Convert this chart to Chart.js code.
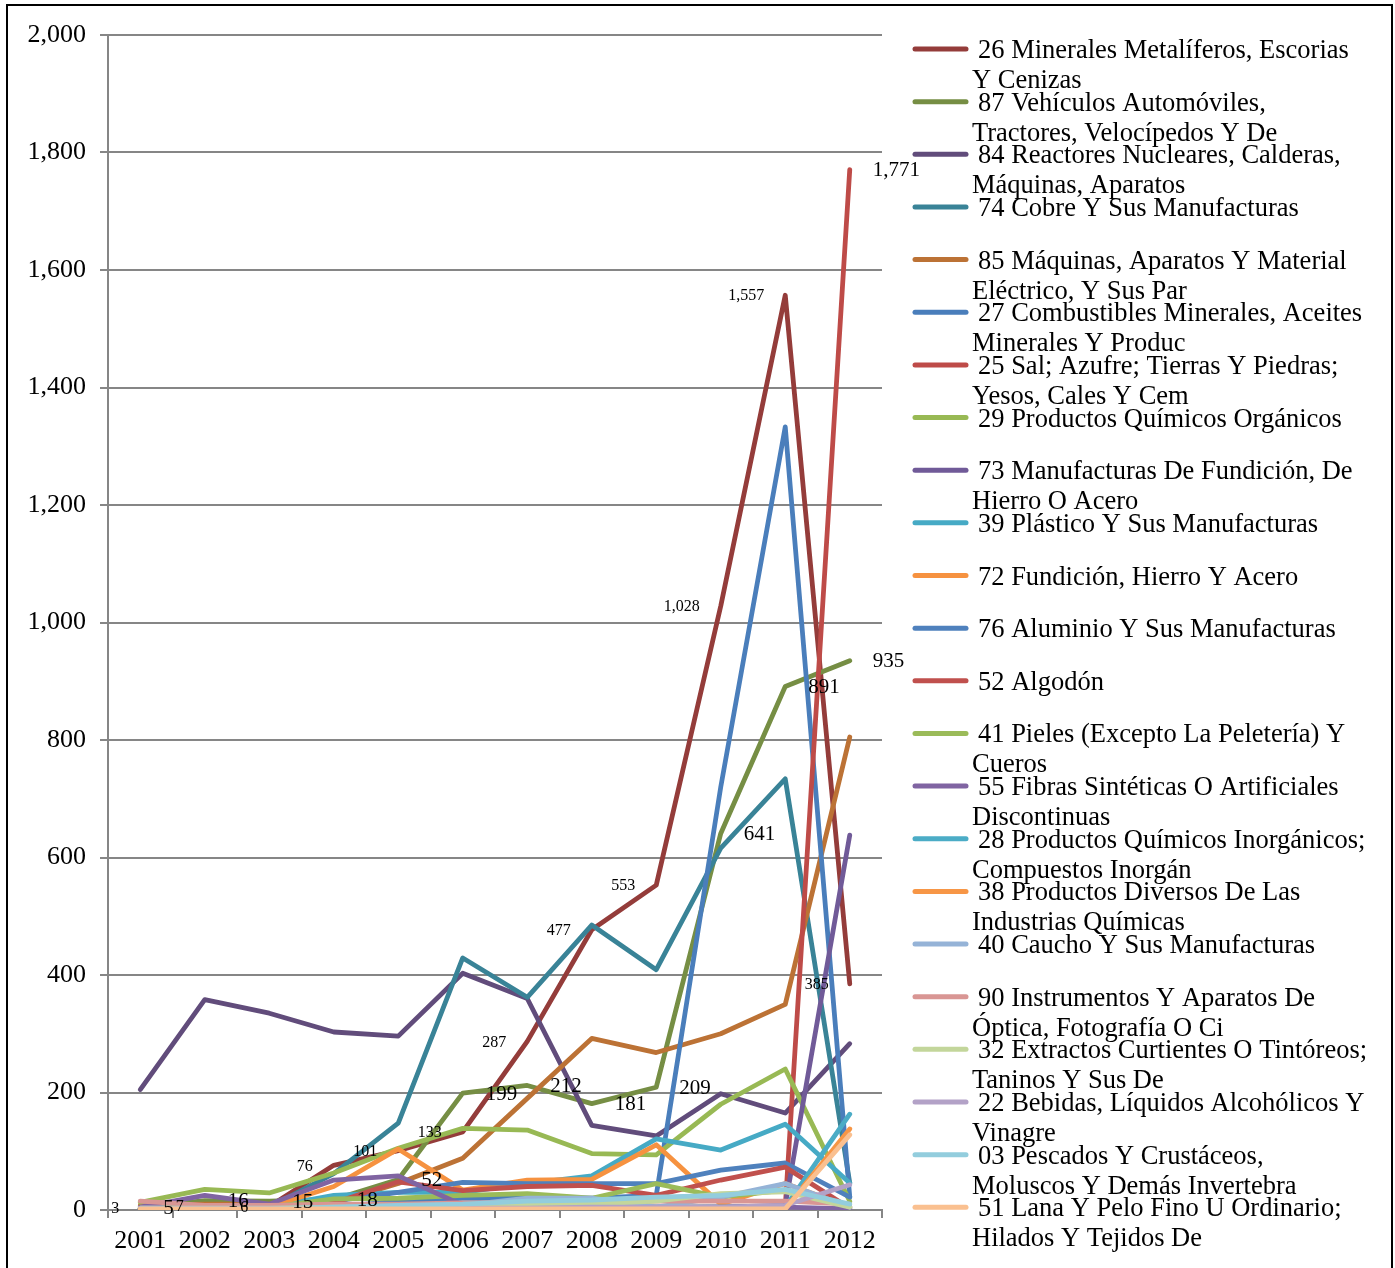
<!DOCTYPE html>
<html><head><meta charset="utf-8">
<script src="https://cdn.jsdelivr.net/npm/chart.js@4.4.0/dist/chart.umd.min.js"></script>
<style>
html,body{margin:0;padding:0;background:#fff;overflow:hidden;}
#wrap{position:relative;width:1395px;height:1268px;overflow:hidden;}
#frame{position:absolute;left:6px;top:4px;width:1387px;height:1300px;border:2px solid #000;box-sizing:border-box;pointer-events:none;}
canvas{position:absolute;left:0;top:0;}
</style></head><body>
<div id="wrap"><canvas id="c" width="1395" height="1268"></canvas><div id="frame"></div></div>
<script>
// ---- categories & ticks ----
const years = ['2001','2002','2003','2004','2005','2006','2007','2008','2009','2010','2011','2012'];
const yTicks = [0,200,400,600,800,1000,1200,1400,1600,1800,2000];

// ---- series values ----
const s26 = [3,7,6,76,101,133,287,477,553,1028,1557,385];
const s87 = [5,16,15,18,52,199,212,181,209,641,891,935];
const s84 = [205,358,335,303,296,403,360,144,126,198,165,283];
const s74 = [2,3,5,62,148,429,362,485,409,616,734,46];
const s85 = [8,10,10,12,45,88,190,292,268,300,350,805];
const s27 = [2,2,3,5,15,20,20,20,25,720,1333,22];
const s25 = [2,2,2,3,5,5,8,8,5,5,5,1771];
const s29 = [13,35,29,63,105,139,136,96,94,180,240,15];
const s73 = [2,2,2,2,3,3,3,3,4,5,8,638];
const s39 = [2,3,5,25,30,30,45,58,121,102,146,46];
const s72 = [5,5,5,40,104,34,51,52,111,10,45,5];
const s76 = [3,3,5,15,30,47,45,45,45,68,80,22];
const s52 = [3,3,3,12,48,33,40,42,25,51,73,3];
const s41 = [3,5,5,19,20,25,28,20,45,22,34,5];
const s55 = [5,25,10,51,58,8,6,5,5,5,5,2];
const s28 = [2,2,2,3,5,5,5,5,5,5,5,163];
const s38 = [2,2,2,2,2,2,2,2,2,2,2,138];
const s40 = [3,3,3,5,5,8,20,20,5,22,45,5];
const s90 = [15,8,8,10,10,12,12,12,15,15,15,10];
const s32 = [3,3,3,5,5,8,10,10,15,28,31,5];
const s22 = [3,3,3,3,3,3,3,5,5,5,8,43];
const s03 = [2,2,2,5,8,10,15,17,22,25,35,10];
const s51 = [2,2,2,2,2,2,2,2,2,2,2,128];

// ---- legend names (as wrapped in the original) ----
const n26 = ['26 Minerales Metalíferos, Escorias','Y Cenizas'];
const n87 = ['87 Vehículos Automóviles,','Tractores, Velocípedos Y De'];
const n84 = ['84 Reactores Nucleares, Calderas,','Máquinas, Aparatos'];
const n74 = ['74 Cobre Y Sus Manufacturas'];
const n85 = ['85 Máquinas, Aparatos Y Material','Eléctrico, Y Sus Par'];
const n27 = ['27 Combustibles Minerales, Aceites','Minerales Y Produc'];
const n25 = ['25 Sal; Azufre; Tierras Y Piedras;','Yesos, Cales Y Cem'];
const n29 = ['29 Productos Químicos Orgánicos'];
const n73 = ['73 Manufacturas De Fundición, De','Hierro O Acero'];
const n39 = ['39 Plástico Y Sus Manufacturas'];
const n72 = ['72 Fundición, Hierro Y Acero'];
const n76 = ['76 Aluminio Y Sus Manufacturas'];
const n52 = ['52 Algodón'];
const n41 = ['41 Pieles (Excepto La Peletería) Y','Cueros'];
const n55 = ['55 Fibras Sintéticas O Artificiales','Discontinuas'];
const n28 = ['28 Productos Químicos Inorgánicos;','Compuestos Inorgán'];
const n38 = ['38 Productos Diversos De Las','Industrias Químicas'];
const n40 = ['40 Caucho Y Sus Manufacturas'];
const n90 = ['90 Instrumentos Y Aparatos De','Óptica, Fotografía O Ci'];
const n32 = ['32 Extractos Curtientes O Tintóreos;','Taninos Y Sus De'];
const n22 = ['22 Bebidas, Líquidos Alcohólicos Y','Vinagre'];
const n03 = ['03 Pescados Y Crustáceos,','Moluscos Y Demás Invertebra'];
const n51 = ['51 Lana Y Pelo Fino U Ordinario;','Hilados Y Tejidos De'];

const series = [
  [n26,s26,'#943C3A','smallLeft'],
  [n87,s87,'#768E44','bigRight'],
  [n84,s84,'#614C7B',null],
  [n74,s74,'#398397',null],
  [n85,s85,'#BC7235',null],
  [n27,s27,'#4A7EBB',null],
  [n25,s25,'#BE4B48','lastRight'],
  [n29,s29,'#98B954',null],
  [n73,s73,'#705A98',null],
  [n39,s39,'#46AAC5',null],
  [n72,s72,'#F69240',null],
  [n76,s76,'#4F81BD',null],
  [n52,s52,'#C0504D',null],
  [n41,s41,'#9BBB59',null],
  [n55,s55,'#8064A2',null],
  [n28,s28,'#4BACC6',null],
  [n38,s38,'#F79646',null],
  [n40,s40,'#95B3D7',null],
  [n90,s90,'#D99694',null],
  [n32,s32,'#C3D69B',null],
  [n22,s22,'#B3A2C7',null],
  [n03,s03,'#93CDDD',null],
  [n51,s51,'#FAC090',null]
];
const N = series.length;
const datasets = series.map((s,i)=>({
  label: s[0].join(' '),
  legendLines: s[0],
  data: s[1],
  borderColor: s[2],
  backgroundColor: s[2],
  borderWidth: 4.8,
  pointRadius: 0,
  pointHoverRadius: 0,
  tension: 0,
  fill: false,
  borderCapStyle: 'round',
  borderJoinStyle: 'round',
  order: N-1-i,
  labelMode: s[3]
}));

const SERIF = '"Liberation Serif","Times New Roman",serif';
const fmt = v => Number(v).toLocaleString('en-US');

const valueLabels = {
  id:'valueLabels',
  afterDatasetsDraw(chart){
    const ctx = chart.ctx;
    ctx.save();
    ctx.fillStyle = '#000';
    ctx.textBaseline = 'middle';
    chart.data.datasets.forEach((ds,i)=>{
      if(!ds.labelMode) return;
      const meta = chart.getDatasetMeta(i);
      meta.data.forEach((pt,j)=>{
        if(ds.labelMode==='lastRight' && j!==ds.data.length-1) return;
        const txt = fmt(ds.data[j]);
        if(ds.labelMode==='smallLeft'){
          ctx.font = '16px '+SERIF; ctx.textAlign='right';
          ctx.fillText(txt, pt.x-21, pt.y+1);
        } else {
          ctx.font = '21px '+SERIF; ctx.textAlign='left';
          ctx.fillText(txt, pt.x+23, pt.y+1);
        }
      });
    });
    ctx.restore();
  }
};

const sideLegend = {
  id:'sideLegend',
  afterDraw(chart){
    const ctx = chart.ctx;
    ctx.save();
    chart.data.datasets.forEach((ds,i)=>{
      const y = 49 + i*52.65;
      ctx.strokeStyle = ds.borderColor;
      ctx.lineWidth = 5; ctx.lineCap = 'round';
      ctx.beginPath(); ctx.moveTo(915,y); ctx.lineTo(966,y); ctx.stroke();
      ctx.fillStyle = '#000';
      ctx.font = '26.5px '+SERIF;
      ctx.textAlign = 'left'; ctx.textBaseline = 'alphabetic';
      ctx.fillText(ds.legendLines[0], 978, y+9);
      if(ds.legendLines[1]) ctx.fillText(ds.legendLines[1], 972, y+39);
    });
    ctx.restore();
  }
};

new Chart(document.getElementById('c'), {
  type:'line',
  data:{ labels: years, datasets },
  options:{
    responsive:false,
    animation:false,
    events:[],
    layout:{ padding:{ left:0, top:35, right:1395-882, bottom:0 } },
    plugins:{ legend:{display:false}, tooltip:{enabled:false}, title:{display:false} },
    scales:{
      x:{
        type:'category',
        offset:true,
        grid:{ display:true, drawOnChartArea:false, drawTicks:true, tickLength:8, color:'#868686', lineWidth:2, offset:true },
        border:{ display:true, color:'#868686', width:2 },
        ticks:{ color:'#000', font:{ family:SERIF, size:26 }, padding:8, maxRotation:0, autoSkip:false },
        afterFit(scale){ scale.height = 58; scale.paddingLeft=0; scale.paddingRight=0; }
      },
      y:{
        min:0, max:2000,
        afterBuildTicks(scale){ scale.ticks = yTicks.map(v=>({value:v})); },
        grid:{ color:'#868686', lineWidth:2, tickLength:8, drawTicks:true },
        border:{ display:true, color:'#868686', width:2 },
        ticks:{ color:'#000', font:{ family:SERIF, size:26 }, padding:14, callback:v=>fmt(v) },
        afterFit(scale){ scale.width = 108; scale.paddingTop=0; scale.paddingBottom=0; }
      }
    }
  },
  plugins:[valueLabels, sideLegend]
});
</script>
</body></html>
